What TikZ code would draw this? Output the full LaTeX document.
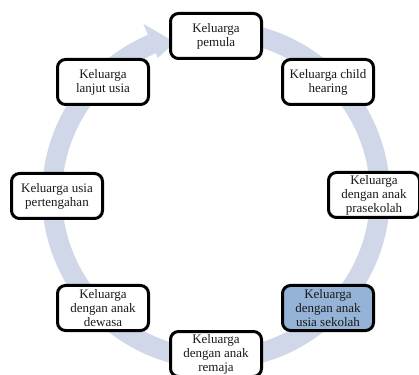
\documentclass[tikz,border=0pt]{standalone}
\usepackage{fontspec}
\setmainfont{Liberation Serif}
\usetikzlibrary{calc}
\definecolor{ringc}{RGB}{207,215,232}
\definecolor{hilite}{RGB}{149,179,215}
\definecolor{txt}{RGB}{25,25,25}
\begin{document}
\begin{tikzpicture}[x=1pt,y=1pt,
  stagebox/.style={draw=black, line width=3pt, rounded corners=8pt, fill=white,
    minimum width=91pt, minimum height=45pt, align=center, inner sep=1pt,
    text=txt, font=\fontsize{13}{14}\selectfont},
  ring/.style={draw=ringc, line width=20pt},
  ringhead/.style={fill=ringc}]
\useasboundingbox (0,0) rectangle (419,374);
\coordinate (C) at (216,179);
% cycle band
\draw[ring] ($(C)+(85:164)$) arc[start angle=85, end angle=-247, radius=164];
\fill[ringhead] ($(C)+(113:186)$) -- ($(C)+(105:158)$) -- ($(C)+(113:149)$) -- cycle;
% stages
\node[stagebox] (pemula) at (216,338) {Keluarga\\pemula};
\node[stagebox] (child) at (328,292) {Keluarga child\\hearing};
\node[stagebox] (prasek) at (374,179) {Keluarga\\dengan anak\\prasekolah};
\node[stagebox, fill=hilite] (sekolah) at (328,66) {Keluarga\\dengan anak\\usia sekolah};
\node[stagebox] (remaja) at (216,20) {Keluarga\\dengan anak\\remaja};
\node[stagebox] (dewasa) at (103,66) {Keluarga\\dengan anak\\dewasa};
\node[stagebox] (tengah) at (57,178) {Keluarga usia\\pertengahan};
\node[stagebox] (lanjut) at (103,292) {Keluarga\\lanjut usia};
\end{tikzpicture}
\end{document}
